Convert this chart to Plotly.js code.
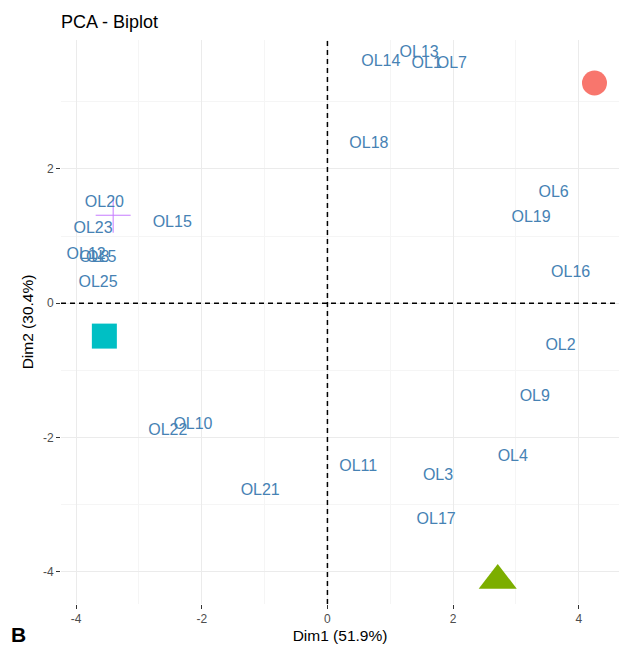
<!DOCTYPE html>
<html>
<head>
<meta charset="utf-8">
<script src="https://cdn.plot.ly/plotly-3.0.1.min.js"></script>
<style>html,body{margin:0;padding:0;background:#fff;}</style>
</head>
<body>
<div id="chart" style="width:619px;height:648px;"></div>
<script>
// Individuals (text labels)
const labels = ["OL1","OL2","OL3","OL4","OL5","OL6","OL7","OL8","OL9","OL10","OL11","OL12","OL13","OL14","OL15","OL16","OL17","OL18","OL19","OL20","OL21","OL22","OL23","OL25"];
const dim1 = [1.58, 3.71, 1.76, 2.95, -3.60, 3.60, 1.98, -3.71, 3.30, -2.14, 0.49, -3.84, 1.46, 0.85, -2.47, 3.87, 1.73, 0.66, 3.24, -3.55, -1.07, -2.54, -3.73, -3.65];
const dim2 = [3.56, -0.64, -2.57, -2.29, 0.67, 1.64, 3.56, 0.67, -1.40, -1.81, -2.44, 0.72, 3.73, 3.59, 1.20, 0.45, -3.23, 2.37, 1.27, 1.49, -2.79, -1.90, 1.11, 0.30];

// Group centres
const groupNames = ["G1","G2","G3","G4"];
const groupX = [4.25, 2.71, -3.55, -3.41];
const groupY = [3.28, -4.13, -0.49, 1.31];
const groupColors = ["#F8766D", "#7CAE00", "#00BFC4", "#C77CFF"];
const groupSymbols = ["circle", "triangle-up", "square", "cross-thin-open"];
const groupSizes = [25, 33, 25, 25];

const xTicks = [-4, -2, 0, 2, 4];
const yTicks = [-4, -2, 0, 2];

const font = "Liberation Sans, Arial, sans-serif";

const traces = [];
for (let i = 0; i < groupNames.length; i++) {
  traces.push({
    type: "scatter", mode: "markers",
    x: [groupX[i]], y: [groupY[i]], name: groupNames[i],
    marker: {
      symbol: groupSymbols[i], size: groupSizes[i], color: groupColors[i],
      line: groupSymbols[i] === "cross-thin-open" ? {color: groupColors[i], width: 1} : {width: 0}
    },
    hoverinfo: "skip"
  });
}
traces.push({
  type: "scatter", mode: "text",
  x: dim1, y: dim2, text: labels,
  textposition: "middle center",
  textfont: {family: font, size: 16, color: "#4682B4"},
  hoverinfo: "skip"
});

const axisCommon = {
  showline: false, zeroline: false,
  showgrid: true, gridcolor: "#EBEBEB", gridwidth: 1,
  ticks: "outside", ticklen: 4, tickwidth: 1, tickcolor: "#333333",
  tickfont: {family: font, size: 12, color: "#4D4D4D"},
  minor: {dtick: 1, tick0: 1, showgrid: true, gridcolor: "#F5F5F5", gridwidth: 1, ticks: ""}
};

const layout = {
  width: 619, height: 648,
  paper_bgcolor: "#ffffff", plot_bgcolor: "#ffffff",
  showlegend: false,
  margin: {l: 61, r: 0, t: 40, b: 44},
  title: {text: "PCA - Biplot", x: 0, xanchor: "left", xref: "paper", y: 0.966, yanchor: "middle",
          font: {family: font, size: 18, color: "#000000"}},
  xaxis: Object.assign({}, axisCommon, {
    range: [-4.24, 4.64], tickvals: xTicks, ticktext: xTicks.map(String),
    title: {text: "Dim1 (51.9%)", font: {family: font, size: 15.5, color: "#000000"}, standoff: 4}
  }),
  yaxis: Object.assign({}, axisCommon, {
    range: [-4.48, 3.92], tickvals: yTicks, ticktext: yTicks.map(String),
    title: {text: "Dim2 (30.4%)", font: {family: font, size: 15.5, color: "#000000"}, standoff: 5}
  }),
  shapes: [
    {type: "line", xref: "x", yref: "paper", x0: 0, x1: 0, y0: 0, y1: 1,
     line: {color: "#000000", width: 1.5, dash: "5px,4px"}},
    {type: "line", xref: "paper", yref: "y", x0: 0, x1: 1, y0: 0, y1: 0,
     line: {color: "#000000", width: 1.5, dash: "5px,4px"}}
  ],
  annotations: [
    {text: "<b>B</b>", xref: "paper", yref: "paper", x: -0.077, y: -0.054,
     xanchor: "center", yanchor: "middle", showarrow: false,
     font: {family: font, size: 21, color: "#000000"}}
  ]
};

Plotly.newPlot("chart", traces, layout, {displayModeBar: false, staticPlot: true});
</script>
</body>
</html>
